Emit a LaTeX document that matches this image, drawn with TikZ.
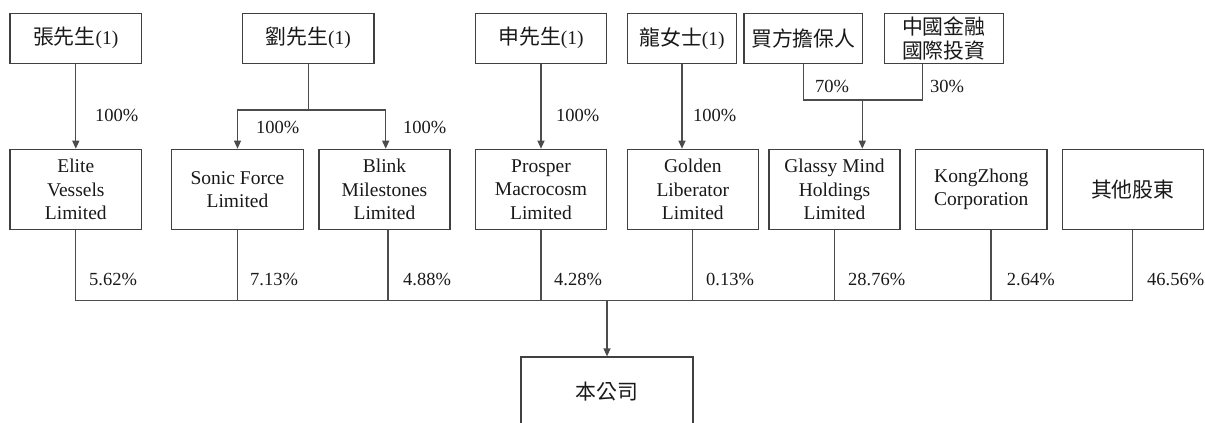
\documentclass[tikz,border=0pt]{standalone}
\usepackage{fontspec}
\setmainfont{Liberation Serif}
\newfontfamily\cjk[Scale=1.07]{Noto Sans CJK TC}
\usetikzlibrary{arrows.meta}
\begin{document}
\begin{tikzpicture}[x=1pt,y=-1pt,
  box/.style={draw=black!75, line width=1.2pt, rectangle, inner sep=0pt, align=center,
    font=\fontsize{19.5}{23.5}\selectfont, text=black!90},
  topbox/.style={box, minimum height=50pt},
  midbox/.style={box, minimum height=80.4pt},
  ln/.style={draw=black!70, line width=1.2pt},
  arr/.style={ln, -{Triangle[width=7pt,length=8pt]}},
  pct/.style={font=\fontsize{18.5}{22}\selectfont, text=black!90, anchor=west, inner sep=0pt}]
\useasboundingbox (0,0) rectangle (1205,423);
% top row
\node[topbox, minimum width=131.7pt] (zhang) at (75.8,38.3) {{\cjk 張先生}(1)};
\node[topbox, minimum width=131.7pt] (liu) at (308.2,38.3) {{\cjk 劉先生}(1)};
\node[topbox, minimum width=131.4pt] (shen) at (541,38.3) {{\cjk 申先生}(1)};
\node[topbox, minimum width=109.4pt] (long) at (682,38.3) {{\cjk 龍女士}(1)};
\node[topbox, minimum width=118.7pt] (buyer) at (803.3,38.3) {{\cjk 買方擔保人}};
\node[topbox, minimum width=119pt] (cif) at (943.8,38.3) {{\cjk 中國金融}\\{\cjk 國際投資}};
% middle row
\node[midbox, minimum width=131.7pt] (elite) at (75.8,189.5) {Elite\\Vessels\\Limited};
\node[midbox, minimum width=131.6pt] (sonic) at (237.5,189.5) {Sonic Force\\Limited};
\node[midbox, minimum width=131pt] (blink) at (384.5,189.5) {Blink\\Milestones\\Limited};
\node[midbox, minimum width=131.4pt] (prosper) at (541,189.5) {Prosper\\Macrocosm\\Limited};
\node[midbox, minimum width=131pt] (golden) at (692.8,189.5) {Golden\\Liberator\\Limited};
\node[midbox, minimum width=131pt] (glassy) at (834.5,189.5) {Glassy Mind\\Holdings\\Limited};
\node[midbox, minimum width=131.3pt] (kong) at (981.3,189.5) {KongZhong\\Corporation};
\node[midbox, minimum width=141pt] (other) at (1132.8,189.5) {{\cjk 其他股東}};
% company
\node[box, minimum width=172pt, minimum height=70pt] (company) at (607,392) {{\cjk 本公司}};
% top connectors
\draw[arr] (zhang.south) -- (elite.north);
\coordinate (lj) at (308.2,110);
\draw[ln] (liu.south) -- (lj);
\draw[arr] (lj) -| (sonic.north);
\draw[arr] (lj) -| ([xshift=1.2pt]blink.north);
\draw[arr] (shen.south) -- (prosper.north);
\draw[arr] (long.south) -- (long.south |- golden.north);
\coordinate (cj) at (922.3,100);
\coordinate (bj) at (862.3,100);
\draw[ln] (buyer.south) |- (cj) -- (cj |- cif.south);
\draw[arr] (bj) -- (bj |- glassy.north);
% top labels
\node[pct] (p1) at (95,115) {100\%};
\node[pct] (p2) at (256,127) {100\%};
\node[pct] (p3) at (403,127) {100\%};
\node[pct] (p4) at (556,115) {100\%};
\node[pct] (p5) at (693,115) {100\%};
\node[pct] (p6) at (815,86) {70\%};
\node[pct] (p7) at (930,86) {30\%};
% bus
\coordinate (bus) at (0,300.7);
\draw[ln] (elite.south) -- (elite.south |- bus) -- (other.south |- bus) -- (other.south);
\foreach \n in {sonic,prosper,golden,glassy}
  \draw[ln] (\n.south) -- (\n.south |- bus);
\draw[ln] ([xshift=3.5pt]blink.south) -- ([xshift=3.5pt]blink.south |- bus);
\draw[ln] ([xshift=9.7pt]kong.south) -- ([xshift=9.7pt]kong.south |- bus);
\draw[arr] (company.north |- bus) -- (company.north);
% bottom labels
\node[pct] (q1) at (89,279) {5.62\%};
\node[pct] (q2) at (250,279) {7.13\%};
\node[pct] (q3) at (403,279) {4.88\%};
\node[pct] (q4) at (554,279) {4.28\%};
\node[pct] (q5) at (706,279) {0.13\%};
\node[pct] (q6) at (848,279) {28.76\%};
\node[pct] (q7) at (1006.7,279) {2.64\%};
\node[pct] (q8) at (1147,279) {46.56\%};
\end{tikzpicture}
\end{document}
